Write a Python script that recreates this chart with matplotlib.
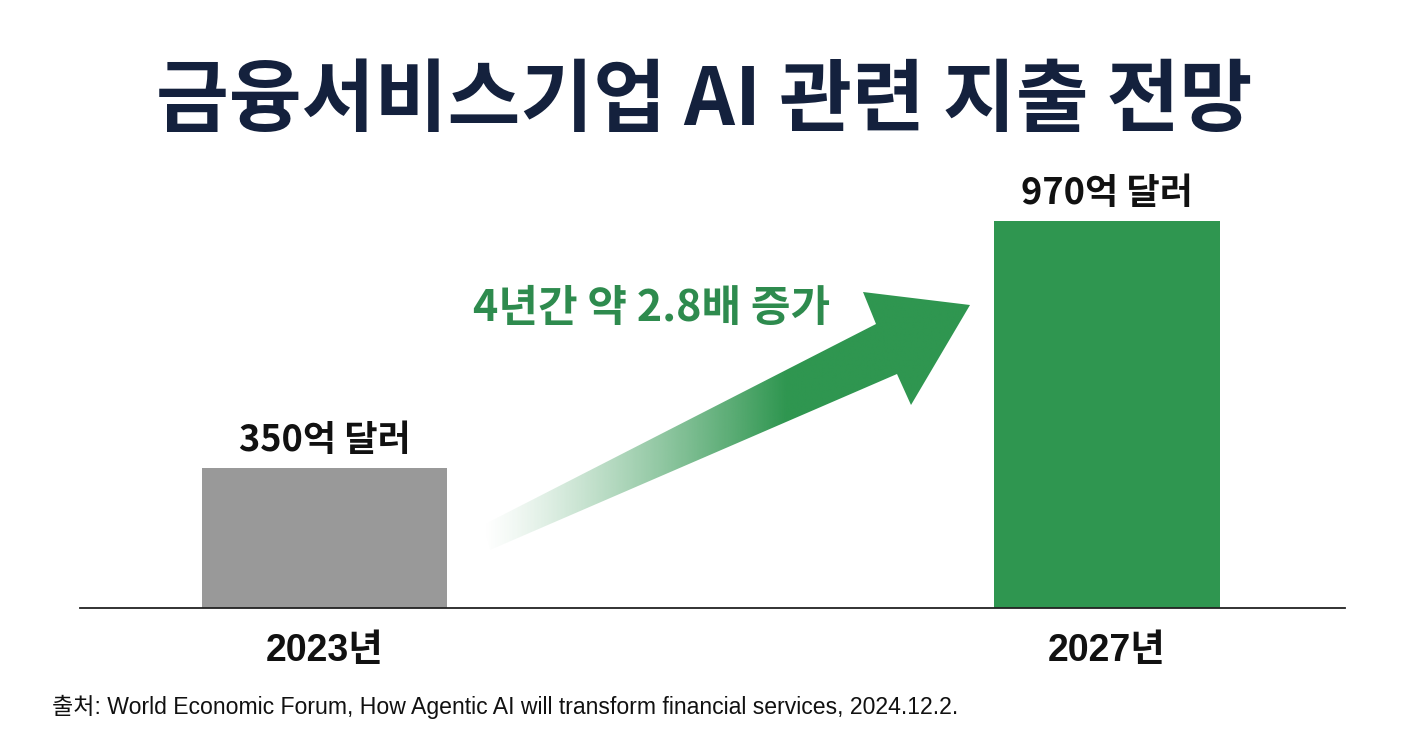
import numpy as np
import matplotlib
matplotlib.use("Agg")
import matplotlib.pyplot as plt
from matplotlib.patches import Polygon

plt.rcParams['font.family'] = ['Noto Sans CJK KR', 'DejaVu Sans']

# ---- data ----
years = ["2023년", "2027년"]
values = [350, 970]
value_labels = ["350억 달러", "970억 달러"]
title = "금융서비스기업 AI 관련 지출 전망"
growth_label = "4년간 약 2.8배 증가"
source = "출처: World Economic Forum, How Agentic AI will transform financial services, 2024.12.2."

bar_colors = ["#999999", "#2f9650"]
green = "#2f9650"
title_color = "#14213d"

W, H = 1424, 752
fig = plt.figure(figsize=(W / 100, H / 100), dpi=100)
fig.patch.set_facecolor("white")

ax_left, ax_right, ax_bottom_px, ax_top_px = 80, 1345, 608, 160
ax = fig.add_axes([ax_left / W, (H - ax_bottom_px) / H,
                   (ax_right - ax_left) / W, (ax_bottom_px - ax_top_px) / H])
ax.set_facecolor("none")

px_per_unit = 782.5
x_pos = np.arange(len(values))
xlim = ((ax_left - 324.5) / px_per_unit, (ax_right - 324.5) / px_per_unit)
ylim = (0, max(values) * (ax_bottom_px - ax_top_px) / 387.0)

ax.bar(x_pos, values, width=[0.313, 0.289], color=bar_colors, zorder=2)

for xp, v, lab in zip(x_pos, values, value_labels):
    ax.annotate(lab, (xp, v), xytext=(0, 20), textcoords="offset points",
                ha="center", va="center", fontsize=26, fontweight="bold",
                color="#111111")

ax.set_xticks(x_pos)
ax.set_xticklabels(years, fontsize=27, fontweight="bold", color="#111111",
                   family=["Liberation Sans", "Noto Sans CJK KR"])
ax.tick_params(axis="x", length=0, pad=18)
ax.set_yticks([])
for s in ["top", "right", "left"]:
    ax.spines[s].set_visible(False)
ax.spines["bottom"].set_color("#222222")
ax.spines["bottom"].set_linewidth(1.3)

# ---- gradient arrow (in data coords) ----
def to_data(px, py):
    return ((px - 324.5) / px_per_unit, (ax_bottom_px - py) * ylim[1] / (ax_bottom_px - ax_top_px))

arrow_px = [(483, 525), (876, 324), (863, 292), (970, 305), (911, 405),
            (897, 374), (490, 550)]
arrow_pts = np.array([to_data(*p) for p in arrow_px])
poly = Polygon(arrow_pts, closed=True, facecolor="none", edgecolor="none")
ax.add_patch(poly)

x0, x1 = arrow_pts[:, 0].min(), arrow_pts[:, 0].max()
y0, y1 = arrow_pts[:, 1].min(), arrow_pts[:, 1].max()
nx, ny = 600, 300
gx = np.linspace(x0, x1, nx)
t = (gx - x0) / (x1 - x0)
alpha = np.clip(t / 0.62, 0, 1) ** 1.2
rgb = matplotlib.colors.to_rgb(green)
img = np.zeros((ny, nx, 4))
img[..., 0], img[..., 1], img[..., 2] = rgb
img[..., 3] = alpha[None, :]
im = ax.imshow(img, extent=[x0, x1, y0, y1], origin="lower", aspect="auto",
               interpolation="bilinear", zorder=3)
im.set_clip_path(poly)

ax.set_xlim(*xlim)
ax.set_ylim(*ylim)

gx_c, gy_c = to_data(652, 308)
ax.text(gx_c, gy_c, growth_label, ha="center", va="center", fontsize=31,
        fontweight="bold", color="#2e8b4e", zorder=4)

# ---- title & source ----
fig.text(704 / W, 1 - 101 / H, title, ha="center", va="center", fontsize=57,
         fontweight="heavy", color=title_color)
fig.text(52 / W, 1 - 707 / H, source, ha="left", va="center", fontsize=16.6,
         color="#111111", family=["Liberation Sans", "Noto Sans CJK KR"])

fig.savefig("out.png", dpi=100, facecolor="white")
